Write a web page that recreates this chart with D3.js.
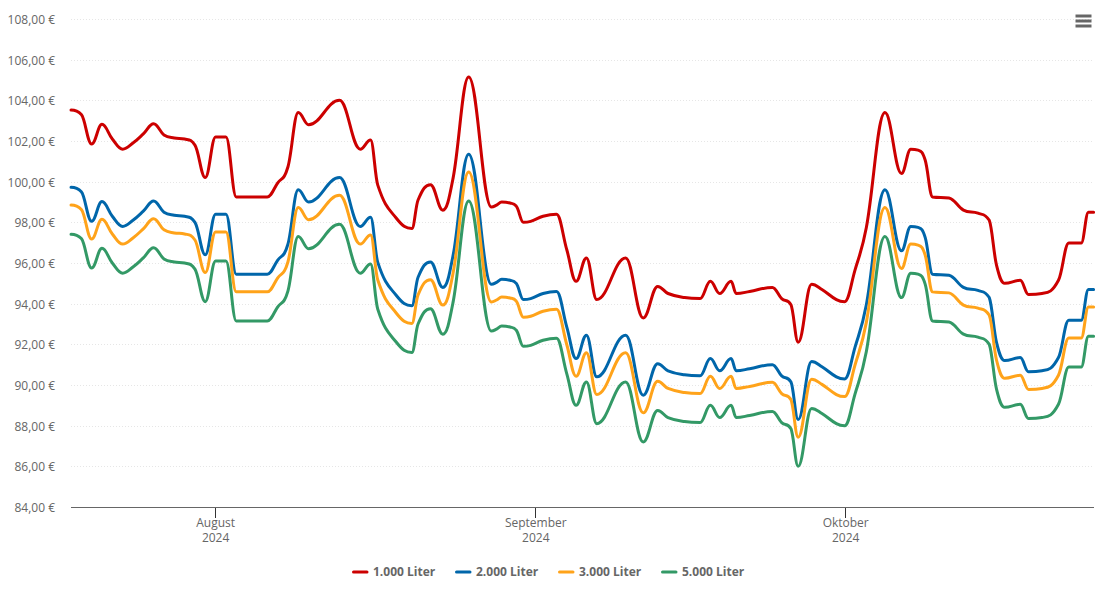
<!DOCTYPE html>
<html><head><meta charset="utf-8">
<script src="https://cdn.jsdelivr.net/npm/d3@7/dist/d3.min.js"></script>
<style>html,body{margin:0;padding:0;background:#fff}svg{display:block}text{font-family:"Open Sans",sans-serif}</style>
</head><body><svg id="c" width="1105" height="602"></svg>
<script>
const startDate = new Date(2024, 6, 18);
const dayOffsets = [0,1,2,3,4,5,6,7,8,9,10,11,12,13,14,15,16,17,18,19,20,21,22,23,26,28,29,29.7,31.5,33,33.6,34.8,36,37,
38.5,40.7,41.2,41.7,42.5,43.1,43.8,44.5,45.7,47,48,48.9,49.9,50.9,53.7,55.4,56.8,57.8,59.4,60.9,61.9,62.8,63.9,64.4,65.7,67.9,68.8,69.7,70.4,71.7,72.7,74.1,74.9,75.9,77,78.8,80.4,81.3,82,82.7,83.4,85,86.4,87.8,88.9,89.6,90.4,91.9,92.7,94,95.6,96.6,97.8,98.5,99];
const liter1000 = [103.52,103.3,101.85,102.82,102.1,101.6,101.9,102.35,102.85,102.3,102.15,102.1,101.8,100.2,102.2,102.2,99.25,99.25,99.25,99.25,99.93,100.72,103.4,102.8,104.0,101.6,102.05,99.83,98.2,97.7,99.1,99.85,98.6,100.2,
105.15,98.75,98.85,99.0,98.95,98.8,98.0,98.05,98.3,98.4,96.65,95.1,96.25,94.2,96.25,93.3,94.85,94.5,94.3,94.25,95.1,94.5,95.1,94.5,94.6,94.8,94.25,93.95,92.1,94.95,94.7,94.2,94.1,95.65,97.75,103.4,100.4,101.6,101.55,101.05,99.25,99.2,98.6,98.45,98.1,95.9,95.0,95.15,94.45,94.5,95.15,96.98,96.98,98.5,98.5];
const liter2000 = [99.72,99.5,98.05,99.02,98.3,97.8,98.1,98.55,99.05,98.5,98.35,98.3,98.0,96.4,98.4,98.4,95.45,95.45,95.45,95.45,96.13,96.92,99.6,99.0,100.2,97.8,98.25,96.03,94.4,93.9,95.3,96.05,94.8,96.4,
101.35,94.95,95.05,95.2,95.15,95.0,94.2,94.25,94.5,94.6,92.85,91.3,92.45,90.4,92.45,89.5,91.05,90.7,90.5,90.45,91.3,90.7,91.3,90.7,90.8,91.0,90.45,90.15,88.3,91.15,90.9,90.4,90.3,91.85,93.95,99.6,96.6,97.8,97.75,97.25,95.45,95.4,94.8,94.65,94.3,92.1,91.2,91.35,90.65,90.7,91.35,93.18,93.18,94.7,94.7];
const liter3000 = [98.85,98.63,97.18,98.15,97.43,96.93,97.23,97.68,98.18,97.63,97.48,97.43,97.13,95.53,97.53,97.53,94.58,94.58,94.58,94.58,95.26,96.05,98.73,98.13,99.33,96.93,97.38,95.16,93.53,93.03,94.43,95.18,93.93,95.53,
100.48,94.08,94.18,94.33,94.28,94.13,93.33,93.38,93.63,93.73,91.98,90.43,91.58,89.53,91.58,88.63,90.18,89.83,89.63,89.58,90.43,89.83,90.43,89.83,89.93,90.13,89.58,89.28,87.43,90.28,90.03,89.53,89.43,90.98,93.08,98.73,95.73,96.93,96.88,96.38,94.58,94.53,93.93,93.78,93.43,91.23,90.33,90.48,89.78,89.83,90.48,92.31,92.31,93.83,93.83];
const liter5000 = [97.42,97.2,95.75,96.72,96.0,95.5,95.8,96.25,96.75,96.2,96.05,96.0,95.7,94.1,96.1,96.1,93.15,93.15,93.15,93.15,93.83,94.62,97.3,96.7,97.9,95.5,95.95,93.73,92.1,91.6,93.0,93.75,92.5,94.1,
99.05,92.65,92.75,92.9,92.85,92.7,91.9,91.95,92.2,92.3,90.55,89.0,90.15,88.1,90.15,87.2,88.75,88.4,88.2,88.15,89.0,88.4,89.0,88.4,88.5,88.7,88.15,87.85,86.0,88.85,88.6,88.1,88.0,89.55,91.65,97.3,94.3,95.5,95.45,94.95,93.15,93.1,92.5,92.35,92.0,89.8,88.9,89.05,88.35,88.4,89.05,90.88,90.88,92.4,92.4];
const seriesNames = ["1.000 Liter","2.000 Liter","3.000 Liter","5.000 Liter"];
const seriesColors = ["#cc0000","#0066aa","#ffa31a","#339966"];
const seriesValues = [liter1000,liter2000,liter3000,liter5000];
const yTicks = [84,86,88,90,92,94,96,98,100,102,104,106,108];
const xTickDates = [new Date(2024,7,1),new Date(2024,8,1),new Date(2024,9,1)];
const xTickMonths = ["August","September","Oktober"];
const xTickYear = "2024";

// Spline curve factory for d3.line: tangents from neighbours, no false extrema
function splineCurve(ctx){
  let pts=[];
  return {
    areaStart(){},areaEnd(){},
    lineStart(){pts=[];},
    point(a,b){pts.push([+a,+b]);},
    lineEnd(){
      const s=1.5,den=s+1,n=pts.length;
      const L=[],R=[];
      for(let i=0;i<n;i++){
        const [px,py]=pts[i];
        if(i===0||i===n-1){L.push([px,py]);R.push([px,py]);continue;}
        const [ax,ay]=pts[i-1],[bx,by]=pts[i+1];
        const lx=(s*px+ax)/den,rx=(s*px+bx)/den;
        let ly=(s*py+ay)/den,ry=(s*py+by)/den;
        const c=((ry-ly)*(rx-px))/(rx-lx)+py-ry;
        ly+=c;ry+=c;
        if(ly>ay&&ly>py){ly=Math.max(ay,py);ry=2*py-ly;}
        else if(ly<ay&&ly<py){ly=Math.min(ay,py);ry=2*py-ly;}
        if(ry>by&&ry>py){ry=Math.max(by,py);ly=2*py-ry;}
        else if(ry<by&&ry<py){ry=Math.min(by,py);ly=2*py-ry;}
        L.push([lx,ly]);R.push([rx,ry]);
      }
      ctx.moveTo(pts[0][0],pts[0][1]);
      for(let i=1;i<n;i++) ctx.bezierCurveTo(R[i-1][0],R[i-1][1],L[i][0],L[i][1],pts[i][0],pts[i][1]);
    }
  };
}

const svg = d3.select("#c");
const x = d3.scaleTime().domain([startDate,d3.timeDay.offset(startDate,99)]).range([71,1093.6]);
const y = d3.scaleLinear().domain([84,108]).range([507,19]);
const toDate = d => new Date(startDate.getTime()+d*864e5);
const fmt = d3.format(".2f");

// grid
const grid = svg.append("g").attr("transform","translate(71,0)")
  .call(d3.axisLeft(y).tickValues(yTicks.slice(1)).tickSize(-1023).tickFormat(""));
grid.select(".domain").remove();
grid.selectAll("line").attr("stroke","#e6e6e6").attr("stroke-dasharray","1,2").attr("shape-rendering","crispEdges");

// y labels
const ya = svg.append("g").attr("transform","translate(55,0.5)")
  .call(d3.axisLeft(y).tickValues(yTicks).tickSize(0).tickPadding(0).tickFormat(v=>fmt(v).replace(".",",")+" €"));
ya.select(".domain").remove();
ya.selectAll("text").attr("font-size",12).attr("fill","#666").style("font-family",'"Open Sans",sans-serif');

// x axis
const xa = svg.append("g").attr("transform","translate(0,507.5)")
  .call(d3.axisBottom(x).offset(0).tickValues(xTickDates).tickSize(10).tickPadding(0).tickFormat(""));
xa.select(".domain").attr("stroke","#666").attr("d","M71,0H1094");
xa.selectAll("line").attr("stroke","#333").attr("shape-rendering","crispEdges");
xa.selectAll(".tick").each(function(d,i){
  const t=d3.select(this).select("text").attr("font-size",12).attr("fill","#666").attr("text-anchor","middle").style("font-family",'"Open Sans",sans-serif').attr("dy",null).attr("y",null);
  t.append("tspan").attr("x",0).attr("y",19).text(xTickMonths[i]);
  t.append("tspan").attr("x",0).attr("y",34).text(xTickYear);
});

// lines
const line = d3.line().x((d,i)=>x(toDate(dayOffsets[i]))).y(d=>y(d)).curve(splineCurve);
seriesValues.forEach((vals,k)=>{
  svg.append("path").datum(vals).attr("d",line).attr("fill","none").attr("stroke",seriesColors[k])
    .attr("stroke-width",3).attr("stroke-linejoin","round").attr("stroke-linecap","round");
});

// legend
const legX=[352,455,558,661];
seriesNames.forEach((n,k)=>{
  const g=svg.append("g").attr("transform",`translate(${legX[k]},572)`);
  g.append("line").attr("x1",1.5).attr("x2",15).attr("stroke",seriesColors[k]).attr("stroke-width",3).attr("stroke-linecap","round");
  g.append("text").attr("x",21).attr("y",4).attr("font-size",12).attr("font-weight",700).attr("fill","#666").text(n);
});

// menu icon
[16,21,26].forEach(v=>svg.append("line").attr("x1",1075.5).attr("x2",1091.5).attr("y1",v).attr("y2",v).attr("stroke","#666").attr("stroke-width",3));
</script></body></html>
